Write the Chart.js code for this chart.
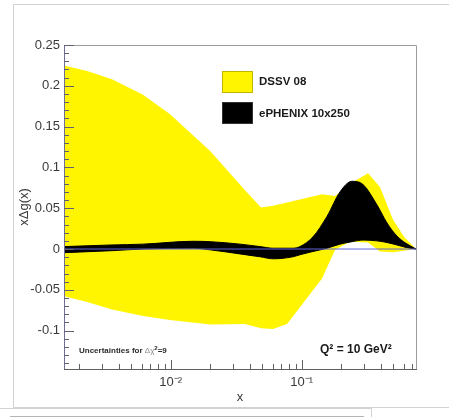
<!DOCTYPE html>
<html>
<head>
<meta charset="utf-8">
<title>xDg(x) uncertainty bands</title>
<script src="https://cdn.jsdelivr.net/npm/chart.js@4/dist/chart.umd.min.js"></script>
<style>
  html, body { margin: 0; padding: 0; background: #fff; overflow: hidden; }
  #page { position: relative; width: 449px; height: 417px; }
  .frame { position: absolute; border: 1px solid #d2d2d2; }
  canvas { position: absolute; left: 0; top: 0; }
</style>
</head>
<body>
<div id="page">
  <div class="frame" style="left:13px; top:4px; width:500px; height:402px;"></div>
  <div class="frame" style="left:-5px; top:408px; width:375px; height:40px; background:#fff;"></div>
  <div class="frame" style="left:10px; top:416px; width:352px; height:30px; border-color:#b4b4b4;"></div>
  <canvas id="pdfChart" width="449" height="417"></canvas>
</div>
<script>
// DSSV 08 band (yellow)
const dssvX     = [0.00153, 0.0023, 0.00356, 0.00614, 0.00988, 0.02, 0.0369, 0.0489, 0.0604, 0.0773, 0.143, 0.18, 0.234, 0.321, 0.396, 0.498, 0.604, 0.746];
const dssvUpper = [0.225, 0.218, 0.208, 0.189, 0.165, 0.120, 0.072, 0.051, 0.053, 0.057, 0.067, 0.065, 0.080, 0.093, 0.076, 0.036, 0.015, 0.0];
const dssvLower = [-0.058, -0.065, -0.074, -0.082, -0.087, -0.0925, -0.092, -0.097, -0.098, -0.092, -0.036, -0.001, 0.009, 0.008, -0.003, -0.004, -0.002, 0.0];

// ePHENIX 10x250 band (black)
const ephenixX     = [0.00153, 0.00356, 0.00614, 0.0148, 0.02, 0.0338, 0.0481, 0.0604, 0.0857, 0.097, 0.122, 0.156, 0.196, 0.242, 0.294, 0.376, 0.448, 0.533, 0.625, 0.746];
const ephenixUpper = [0.003, 0.005, 0.006, 0.0095, 0.009, 0.006, 0.003, 0.001, 0.001, 0.003, 0.015, 0.040, 0.070, 0.083, 0.079, 0.054, 0.032, 0.016, 0.007, 0.0];
const ephenixLower = [-0.0045, -0.002, 0.0, 0.001, -0.001, -0.006, -0.0095, -0.012, -0.0095, -0.007, -0.003, 0.001, 0.006, 0.009, 0.011, 0.010, 0.008, 0.005, 0.002, 0.0];

// Axis ranges and tick labels
const xRange = [0.00153, 0.746];
const yRange = [-0.147, 0.25];
const xTicks = [0.01, 0.1];
const xTickLabels = ['10\u207B\u00B2', '10\u207B\u00B9'];
const yTicks = [-0.1, -0.05, 0, 0.05, 0.1, 0.15, 0.2, 0.25];
const yTickLabels = ['-0.1', '-0.05', '0', '0.05', '0.1', '0.15', '0.2', '0.25'];

const legendNames = ['DSSV 08', 'ePHENIX 10x250'];
const bandColors = ['#fff500', '#000000'];

const FONT = '"Liberation Sans", Arial, Helvetica, sans-serif';

// helper to zip x and y arrays into points
function pts(xs, ys) {
    return xs.map((x, i) => ({ x: x, y: ys[i] }));
}

// Frame and inward ticks, ROOT style
const frameTicks = {
    id: 'frameTicks',
    afterDatasetsDraw(chart) {
        const { ctx, chartArea: a, scales: { x, y } } = chart;
        ctx.save();
        ctx.lineWidth = 1;

        ctx.strokeStyle = '#9c9c9c';
        ctx.beginPath();
        ctx.moveTo(a.left, a.top + 0.5);
        ctx.lineTo(Math.round(a.right) + 0.5, a.top + 0.5);
        ctx.lineTo(Math.round(a.right) + 0.5, a.bottom);
        ctx.stroke();

        // left axis
        ctx.strokeStyle = '#6e6e98';
        ctx.beginPath();
        ctx.moveTo(a.left + 0.5, a.top);
        ctx.lineTo(a.left + 0.5, a.bottom);
        ctx.stroke();
        // bottom axis
        ctx.strokeStyle = '#606060';
        ctx.beginPath();
        ctx.moveTo(a.left, a.bottom + 0.5);
        ctx.lineTo(a.right + 1, a.bottom + 0.5);
        ctx.stroke();

        // y ticks: major every 0.05, minor every 0.01
        ctx.strokeStyle = '#606070';
        ctx.beginPath();
        for (let k = -14; k <= 25; k++) {
            const py = Math.round(y.getPixelForValue(k / 100)) + 0.5;
            const len = (k % 5 === 0) ? 10 : 5;
            ctx.moveTo(a.left, py);
            ctx.lineTo(a.left + len, py);
        }
        ctx.stroke();

        // x ticks: decades major, 2..9 minor
        ctx.strokeStyle = '#606060';
        ctx.beginPath();
        [0.001, 0.01, 0.1].forEach(dec => {
            for (let m = 1; m <= 9; m++) {
                const v = m * dec;
                if (v < xRange[0] || v > xRange[1]) continue;
                const px = Math.round(x.getPixelForValue(v)) + 0.5;
                const len = (m === 1) ? 9 : 5;
                ctx.moveTo(px, a.bottom);
                ctx.lineTo(px, a.bottom - len);
            }
        });
        ctx.stroke();
        ctx.restore();
    }
};

// Legend and annotation texts
const labelsPlugin = {
    id: 'labelsPlugin',
    afterDraw(chart) {
        const ctx = chart.ctx;
        ctx.save();

        // legend swatches
        ctx.lineWidth = 1;
        ctx.fillStyle = bandColors[0];
        ctx.strokeStyle = '#c2b400';
        ctx.fillRect(222, 71, 31, 22);
        ctx.strokeRect(222.5, 71.5, 30, 21);
        ctx.fillStyle = bandColors[1];
        ctx.strokeStyle = '#333';
        ctx.fillRect(222, 102, 31, 22);
        ctx.strokeRect(222.5, 102.5, 30, 21);

        ctx.fillStyle = '#1a1a1a';
        ctx.textBaseline = 'middle';
        ctx.textAlign = 'left';
        ctx.font = 'bold 11.5px ' + FONT;
        ctx.fillText(legendNames[0], 259, 82);
        ctx.fillText(legendNames[1], 259, 114);

        // Q^2 label
        ctx.font = 'bold 12px ' + FONT;
        ctx.fillText('Q\u00B2 = 10 GeV\u00B2', 320, 350);

        // uncertainty note
        let tx = 79;
        ctx.font = 'bold 8px ' + FONT;
        ctx.fillStyle = '#2a2a2a';
        ctx.fillText('Uncertainties for ', tx, 351);
        tx += ctx.measureText('Uncertainties for ').width;
        ctx.font = '8px ' + FONT;
        ctx.fillStyle = '#8a8a8a';
        ctx.fillText('\u0394\u03C7', tx, 351);
        tx += ctx.measureText('\u0394\u03C7').width;
        ctx.font = 'bold 6px ' + FONT;
        ctx.fillStyle = '#2a2a2a';
        ctx.fillText('2', tx, 348);
        tx += ctx.measureText('2').width;
        ctx.font = 'bold 8px ' + FONT;
        ctx.fillText('=9', tx, 351);

        ctx.restore();
    }
};

const ctx = document.getElementById('pdfChart').getContext('2d');
const chart = new Chart(ctx, {
    type: 'line',
    data: {
        datasets: [
            { // 0: DSSV upper edge
                data: pts(dssvX, dssvUpper),
                borderWidth: 0,
                pointRadius: 0,
                tension: 0,
                fill: false,
                order: 3
            },
            { // 1: DSSV lower edge, filled up to the upper edge
                data: pts(dssvX, dssvLower),
                borderWidth: 0,
                pointRadius: 0,
                tension: 0,
                backgroundColor: bandColors[0],
                fill: 0,
                order: 3
            },
            { // 2: ePHENIX upper edge
                data: pts(ephenixX, ephenixUpper),
                borderColor: bandColors[1],
                borderWidth: 1,
                pointRadius: 0,
                cubicInterpolationMode: 'monotone',
                fill: false,
                order: 2
            },
            { // 3: ePHENIX lower edge
                data: pts(ephenixX, ephenixLower),
                borderColor: bandColors[1],
                borderWidth: 1,
                pointRadius: 0,
                cubicInterpolationMode: 'monotone',
                backgroundColor: bandColors[1],
                fill: 2,
                order: 2
            },
            { // 4: zero line
                data: pts(xRange, [0, 0]),
                borderColor: '#6464dc',
                borderWidth: 1,
                pointRadius: 0,
                fill: false,
                order: 1
            }
        ]
    },
    options: {
        responsive: false,
        animation: false,
        events: [],
        layout: { padding: { top: 45, right: 33, bottom: 0, left: 0 } },
        plugins: {
            legend: { display: false },
            tooltip: { enabled: false }
        },
        scales: {
            x: {
                type: 'logarithmic',
                min: xRange[0],
                max: xRange[1],
                grid: { display: false, drawTicks: false },
                border: { display: false },
                afterBuildTicks: s => { s.ticks = xTicks.map(v => ({ value: v })); },
                afterFit: s => { s.height = 48; },
                ticks: {
                    autoSkip: false,
                    maxRotation: 0,
                    padding: 6,
                    color: '#3a3a3a',
                    font: { family: FONT, size: 13 },
                    callback: (v) => xTickLabels[xTicks.indexOf(v)]
                },
                title: {
                    display: true,
                    text: 'x',
                    color: '#3a3a3a',
                    font: { family: FONT, size: 13 },
                    padding: { top: 0, bottom: 12 }
                }
            },
            y: {
                min: yRange[0],
                max: yRange[1],
                grid: { display: false, drawTicks: false },
                border: { display: false },
                afterBuildTicks: s => { s.ticks = yTicks.map(v => ({ value: v })); },
                afterFit: s => { s.width = 64; },
                ticks: {
                    autoSkip: false,
                    padding: 4,
                    color: '#3a3a3a',
                    font: { family: FONT, size: 13 },
                    callback: (v) => yTickLabels[yTicks.indexOf(v)]
                },
                title: {
                    display: true,
                    text: 'x\u0394g(x)',
                    color: '#3a3a3a',
                    font: { family: FONT, size: 13 },
                    padding: { top: 17, bottom: 0 }
                }
            }
        }
    },
    plugins: [frameTicks, labelsPlugin]
});
</script>
</body>
</html>
